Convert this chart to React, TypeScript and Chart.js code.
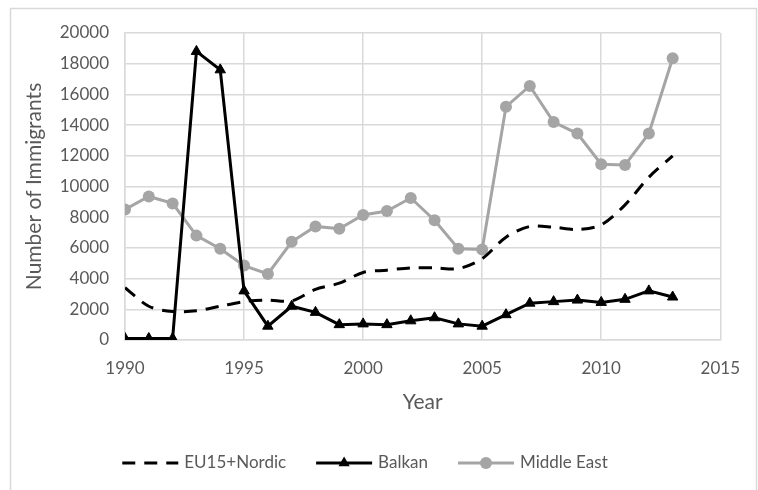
import React, { useEffect, useRef } from "react";
import { Chart, registerables } from "chart.js";

Chart.register(...registerables);

const years = [1990, 1991, 1992, 1993, 1994, 1995, 1996, 1997, 1998, 1999, 2000, 2001, 2002, 2003, 2004, 2005, 2006, 2007, 2008, 2009, 2010, 2011, 2012, 2013];
const eu15Nordic = [3400, 2200, 1850, 1900, 2200, 2500, 2600, 2550, 3300, 3700, 4400, 4550, 4700, 4700, 4650, 5300, 6700, 7400, 7350, 7200, 7500, 8800, 10600, 12000];
const balkan = [100, 100, 100, 18800, 17600, 3200, 900, 2200, 1800, 1000, 1050, 1000, 1250, 1450, 1050, 900, 1650, 2400, 2500, 2600, 2450, 2650, 3200, 2800];
const middleEast = [8500, 9350, 8900, 6800, 5950, 4850, 4300, 6400, 7400, 7250, 8150, 8400, 9250, 7800, 5950, 5900, 15200, 16550, 14200, 13450, 11450, 11400, 13450, 18350];

const seriesNames = ["EU15+Nordic", "Balkan", "Middle East"];
const xMin = 1990;
const xMax = 2015;
const xStep = 5;
const yMin = 0;
const yMax = 20000;
const yStep = 2000;
const xTitle = "Year";
const yTitle = "Number of Immigrants";

const FONT = "Lato, 'Open Sans', sans-serif";
const TEXT = "#595959";
const GRID = "#d9d9d9";
const GRAY = "#a5a5a5";
const BLACK = "#000000";

const toPoints = (vals: number[]) => vals.map((v, i) => ({ x: years[i], y: v }));

const frame = {
  id: "frame",
  beforeDraw(chart: any) {
    const ctx = chart.ctx;
    ctx.save();
    ctx.fillStyle = "#ffffff";
    ctx.fillRect(0, 0, chart.width, chart.height);
    ctx.strokeStyle = GRID;
    ctx.lineWidth = 1.5;
    ctx.strokeRect(10.5, 8.5, 746, 500);
    ctx.restore();
  },
};

const customLegend = {
  id: "customLegend",
  afterDraw(chart: any) {
    const ctx = chart.ctx;
    ctx.save();
    ctx.font = `17px ${FONT}`;
    ctx.textBaseline = "middle";
    ctx.fillStyle = TEXT;
    const lineLen = 56;
    const gap = 6;
    const sep = 30;
    const widths = seriesNames.map((n) => ctx.measureText(n).width);
    const total = widths.reduce((a, w) => a + lineLen + gap + w, 0) + sep * (seriesNames.length - 1);
    let x = 365 - total / 2;
    const y = 463;
    seriesNames.forEach((name, i) => {
      ctx.save();
      ctx.lineWidth = 3;
      if (i === 0) {
        ctx.strokeStyle = BLACK;
        ctx.setLineDash([13, 9]);
        ctx.beginPath();
        ctx.moveTo(x, y);
        ctx.lineTo(x + lineLen, y);
        ctx.stroke();
      } else if (i === 1) {
        ctx.strokeStyle = BLACK;
        ctx.beginPath();
        ctx.moveTo(x, y);
        ctx.lineTo(x + lineLen, y);
        ctx.stroke();
        ctx.fillStyle = BLACK;
        const cx = x + lineLen / 2;
        const r = 6.5;
        ctx.beginPath();
        ctx.moveTo(cx, y - r);
        ctx.lineTo(cx + r * 0.866, y + r * 0.5);
        ctx.lineTo(cx - r * 0.866, y + r * 0.5);
        ctx.closePath();
        ctx.fill();
      } else {
        ctx.strokeStyle = GRAY;
        ctx.beginPath();
        ctx.moveTo(x, y);
        ctx.lineTo(x + lineLen, y);
        ctx.stroke();
        ctx.fillStyle = GRAY;
        ctx.beginPath();
        ctx.arc(x + lineLen / 2, y, 6, 0, Math.PI * 2);
        ctx.fill();
      }
      ctx.restore();
      ctx.fillStyle = TEXT;
      ctx.fillText(name, x + lineLen + gap, y);
      x += lineLen + gap + widths[i] + sep;
    });
    ctx.restore();
  },
};

export default function App() {
  const ref = useRef<HTMLCanvasElement | null>(null);
  useEffect(() => {
    if (!ref.current) return;
    const chart = new Chart(ref.current, {
      type: "line",
      data: {
        datasets: [
          {
            label: seriesNames[0],
            data: toPoints(eu15Nordic),
            borderColor: BLACK,
            borderWidth: 3,
            borderDash: [13, 9],
            pointRadius: 0,
            tension: 0.3,
            fill: false,
          },
          {
            label: seriesNames[1],
            data: toPoints(balkan),
            borderColor: BLACK,
            backgroundColor: BLACK,
            borderWidth: 3,
            pointStyle: "triangle",
            pointRadius: 6,
            pointBorderWidth: 1,
            tension: 0,
            fill: false,
          },
          {
            label: seriesNames[2],
            data: toPoints(middleEast),
            borderColor: GRAY,
            backgroundColor: GRAY,
            borderWidth: 3,
            pointStyle: "circle",
            pointRadius: 6,
            pointBorderWidth: 0,
            tension: 0,
            fill: false,
          },
        ],
      },
      options: {
        responsive: false,
        animation: false,
        layout: { padding: { left: 18, top: 33, right: 33, bottom: 70 } },
        plugins: {
          legend: { display: false },
          tooltip: { enabled: false },
        },
        scales: {
          x: {
            type: "linear",
            min: xMin,
            max: xMax,
            afterFit: (s: any) => {
              s.height = 80;
            },
            ticks: {
              stepSize: xStep,
              color: TEXT,
              font: { family: FONT, size: 17 },
              padding: 18,
              callback: (v: any) => String(v),
              maxRotation: 0,
            },
            grid: { color: GRID, lineWidth: 1.5, drawTicks: false },
            border: { color: GRID, width: 1.5 },
            title: {
              display: true,
              text: xTitle,
              color: TEXT,
              font: { family: FONT, size: 21 },
              padding: { top: 0, bottom: 5 },
            },
          },
          y: {
            min: yMin,
            max: yMax,
            afterFit: (s: any) => {
              s.width = 107;
            },
            ticks: {
              stepSize: yStep,
              color: TEXT,
              font: { family: FONT, size: 17 },
              padding: 16,
              callback: (v: any) => String(v),
            },
            grid: { color: GRID, lineWidth: 1.5, drawTicks: false },
            border: { color: GRID, width: 1.5 },
            title: {
              display: true,
              text: yTitle,
              color: TEXT,
              font: { family: FONT, size: 21 },
              padding: { top: 4, bottom: 4 },
            },
          },
        },
      },
      plugins: [frame, customLegend],
    });
    return () => chart.destroy();
  }, []);
  return (
    <div style={{ position: "absolute", left: 0, top: 0, width: 758, height: 490 }}>
      <canvas ref={ref} width={758} height={490} />
    </div>
  );
}
